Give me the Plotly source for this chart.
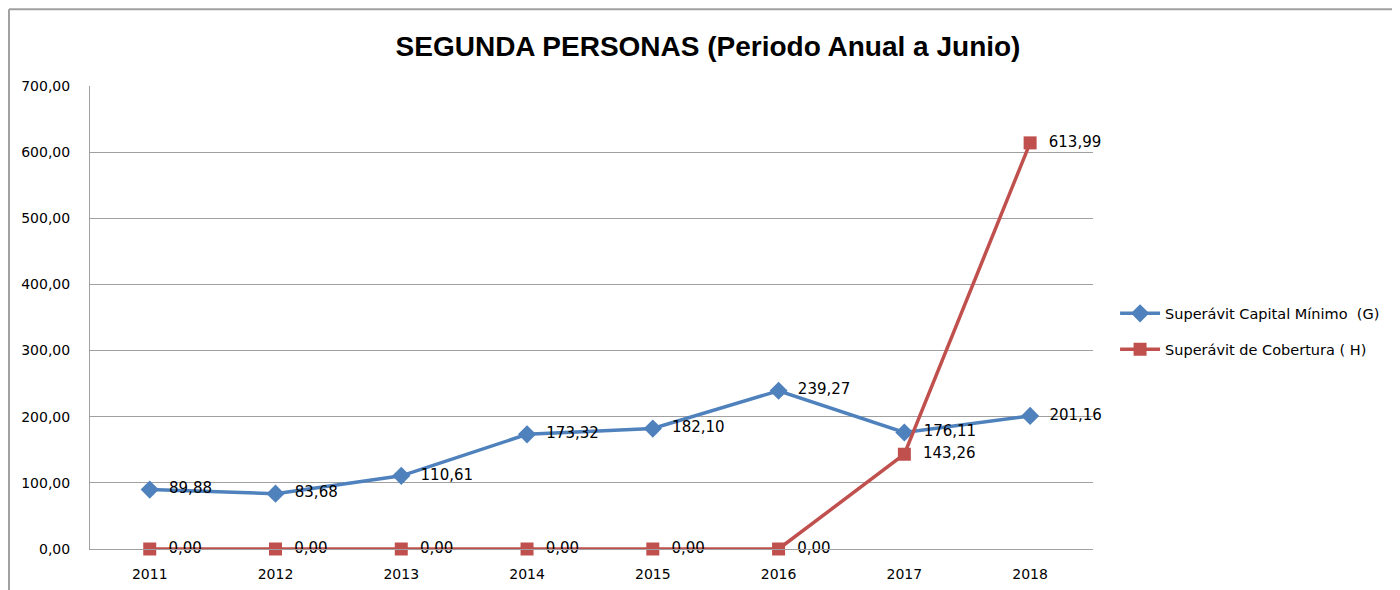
import plotly.graph_objects as go

years = ["2011", "2012", "2013", "2014", "2015", "2016", "2017", "2018"]
capital_minimo = [89.88, 83.68, 110.61, 173.32, 182.10, 239.27, 176.11, 201.16]
cobertura = [0.00, 0.00, 0.00, 0.00, 0.00, 0.00, 143.26, 613.99]
y_ticks = [0, 100, 200, 300, 400, 500, 600, 700]

def fmt(v):
    return "  " + f"{v:.2f}".replace(".", ",")

blue = "#4f81bd"
red = "#c0504d"
font_fam = "Verdana, DejaVu Sans, sans-serif"

fig = go.Figure()
fig.add_trace(go.Scatter(
    x=years, y=capital_minimo, mode="lines+markers+text",
    name="Superávit Capital Mínimo  (G)", legendgroup="g",
    line=dict(color=blue, width=3.5),
    marker=dict(symbol="diamond", size=14, color=blue),
    text=[fmt(v) for v in capital_minimo], textposition="middle right",
    textfont=dict(size=15, color="#000000", family=font_fam),
    cliponaxis=False,
))
fig.add_trace(go.Scatter(
    x=years, y=cobertura, mode="lines+markers+text",
    name="Superávit de Cobertura ( H)", legendgroup="h",
    line=dict(color=red, width=3.5),
    marker=dict(symbol="square", size=13, color=red),
    text=[fmt(v) for v in cobertura], textposition="middle right",
    textfont=dict(size=15, color="#000000", family=font_fam),
    cliponaxis=False,
))

fig.update_layout(
    width=1400, height=590,
    paper_bgcolor="white", plot_bgcolor="white",
    margin=dict(l=82, r=315, t=78, b=49),
    separators=",.",
    title=dict(text="<b>SEGUNDA PERSONAS (Periodo Anual a Junio)</b>",
               x=0.5, xanchor="center", y=0.935, yanchor="middle",
               font=dict(size=28, family="Liberation Sans Narrow, Arial Narrow, sans-serif", color="#000000")),
    showlegend=True,
    legend=dict(x=1.022, xanchor="left", y=0.47, yanchor="middle",
                font=dict(size=14.5, family=font_fam, color="#000000"),
                tracegroupgap=14, itemwidth=40),
    xaxis=dict(type="category", range=[-0.475, 7.5], showgrid=False,
               showline=True, linecolor="#a0a0a0", linewidth=1,
               ticks="", ticklabelstandoff=12,
               tickfont=dict(size=14, family=font_fam, color="#000000")),
    yaxis=dict(range=[0, 700], tickvals=y_ticks, tickformat=".2f",
               showgrid=True, gridcolor="#a0a0a0", gridwidth=1,
               showline=True, linecolor="#a0a0a0", linewidth=1, zeroline=False,
               ticks="", ticklabelstandoff=16,
               tickfont=dict(size=14, family=font_fam, color="#000000")),
    shapes=[
        dict(type="line", xref="paper", yref="paper", x0=-0.0808, x1=-0.0808, y0=-0.2, y1=1.166,
             line=dict(color="#a0a0a0", width=2)),
        dict(type="line", xref="paper", yref="paper", x0=-0.0808, x1=1.32, y0=1.166, y1=1.166,
             line=dict(color="#a0a0a0", width=2)),
    ],
)
fig.write_html("out.html")
